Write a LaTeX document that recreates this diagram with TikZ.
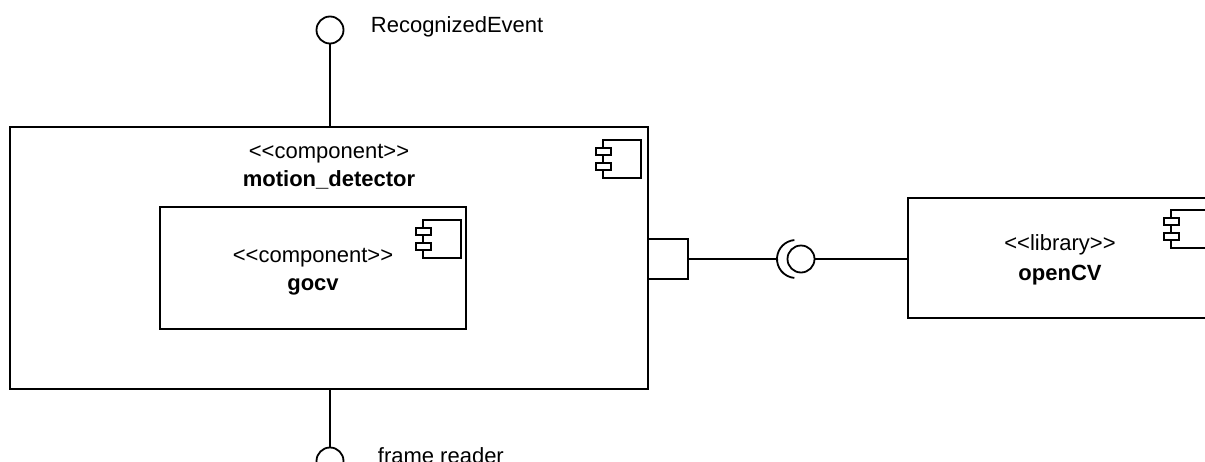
\documentclass[tikz,border=0pt]{standalone}
\usepackage{fontspec}
\setmainfont{Liberation Sans}
\usetikzlibrary{positioning}
\newcommand{\stereo}[1]{{<}{<}#1{>}{>}}
%% component icon, #1,#2 = top left of its body
\newcommand{\compicon}[2]{%
\draw (#1,#2) rectangle ++(38,38);
\draw [fill=white] (#1-7,#2+8) rectangle ++(15,7);
\draw [fill=white] (#1-7,#2+23) rectangle ++(15,7);
}

\begin{document}
\begin{tikzpicture}[x=1pt, y=-1pt, line width=1.8pt,
box/.style={draw, rectangle, inner sep=0pt},
port/.style={draw, rectangle, inner sep=0pt, minimum size=40pt},
ball/.style={draw, circle, inner sep=0pt, minimum size=27pt},
txt/.style={anchor=base, inner sep=0pt}]

\begin{large}
\fontsize{22}{26}\selectfont
\useasboundingbox (0,0) rectangle (1205,461);
\clip (0,0) rectangle (1205,461);

%% boxes
\node [box, minimum width=638pt, minimum height=262pt] (motion) at (329,258) {};
\node [box, minimum width=306pt, minimum height=122pt] (gocv) at (313,268) {};
\node [box, minimum width=304pt, minimum height=120pt] (opencv) at (1060,258) {};

\compicon{603}{140}
\compicon{423}{220}
\compicon{1171}{210}

\node [txt] (mtype) at (329,158) {\stereo{component}};
\node [txt, font=\bfseries] (mname) at (329,186) {motion\_detector};
\node [txt] (gtype) at (313,262) {\stereo{component}};
\node [txt, font=\bfseries] (gname) at (313,290) {gocv};
\node [txt] (otype) at (1060,250) {\stereo{library}};
\node [txt, font=\bfseries] (oname) at (1060,280) {openCV};

%% provided / required interfaces
\node [ball] (event) at (330,30) {};
\node [anchor=base west, inner sep=0pt] (evlabel) at (370,32) {RecognizedEvent};
\draw (event) -- (event |- motion.north);

\node [ball] (frame) at (330,461) {};
\node [anchor=base west, inner sep=0pt] (frlabel) at (377,463) {frame reader};
\draw (frame |- motion.south) -- (frame);

%% port to openCV
\node [port] (pt) at (668,259) {};
\node [ball] (lib) at (801,259) {};
\coordinate (cup) at (777,259);
\draw (pt) -- (cup);
\draw ([shift={(796,259)}]95:19) arc (95:265:19);
\draw (lib.east) -- (lib.east -| opencv.west);
\end{large}
\end{tikzpicture}
\end{document}
